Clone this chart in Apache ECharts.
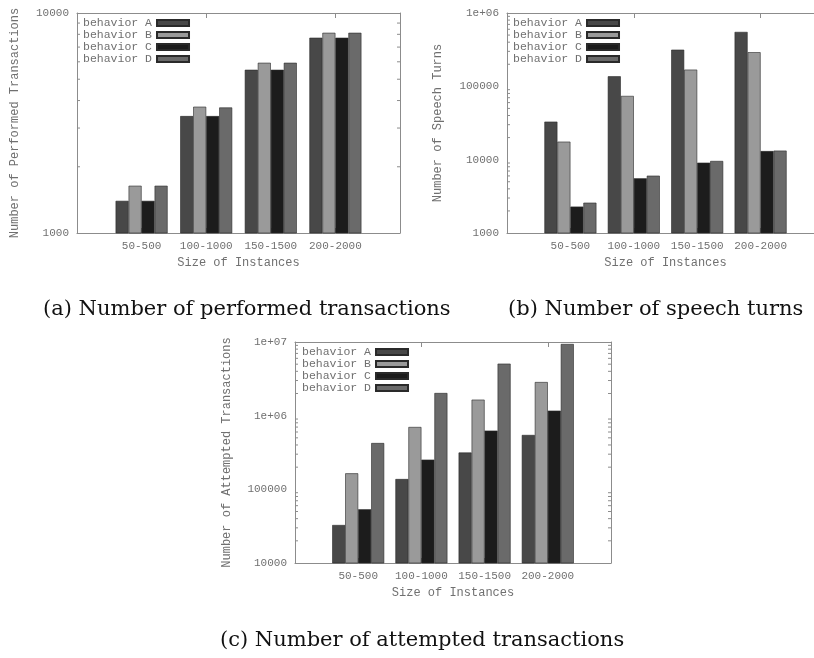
<!DOCTYPE html>
<html>
<head>
<meta charset="utf-8">
<script src="https://cdn.jsdelivr.net/npm/echarts@6/dist/echarts.min.js"></script>
<style>
  html, body { margin: 0; padding: 0; background: #fff; }
  #chart { width: 814px; height: 658px; }
</style>
</head>
<body>
<div id="chart"></div>
<script>
const categories = ["50-500", "100-1000", "150-1500", "200-2000"];
const behaviors = ["behavior A", "behavior B", "behavior C", "behavior D"];

// (a) performed transactions
const performedA = [1400, 3400, 5520, 7720];
const performedB = [1640, 3750, 5940, 8130];
const performedC = [1400, 3400, 5520, 7720];
const performedD = [1640, 3720, 5940, 8130];

// (b) speech turns
const speechA = [33000, 137000, 316000, 552000];
const speechB = [17600, 74000, 169000, 292000];
const speechC = [2290, 5570, 9100, 13100];
const speechD = [2590, 6050, 9600, 13300];

// (c) attempted transactions
const attemptedA = [32800, 138000, 316000, 547000];
const attemptedB = [165000, 702000, 1650000, 2860000];
const attemptedC = [53600, 253000, 627000, 1170000];
const attemptedD = [425000, 2030000, 5080000, 9400000];

// minor log ticks on left/right borders
const minorTicksA = [2000, 3000, 4000, 5000, 6000, 7000, 8000, 9000];
const minorTicksB = [2000, 3000, 4000, 5000, 6000, 7000, 8000, 9000,
  20000, 30000, 40000, 50000, 60000, 70000, 80000, 90000,
  200000, 300000, 400000, 500000, 600000, 700000, 800000, 900000];
const minorTicksC = [20000, 30000, 40000, 50000, 60000, 70000, 80000, 90000,
  200000, 300000, 400000, 500000, 600000, 700000, 800000, 900000,
  2000000, 3000000, 4000000, 5000000, 6000000, 7000000, 8000000, 9000000];

const captions = [
  "(a) Number of performed transactions",
  "(b) Number of speech turns",
  "(c) Number of attempted transactions"
];
const yNames = [
  "Number of Performed Transactions",
  "Number of Speech Turns",
  "Number of Attempted Transactions"
];
const xName = "Size of Instances";
const yMin = [1000, 1000, 10000];
const yMax = [10000, 1000000, 10000000];

const mono = "Liberation Mono";
const textColor = "#707070";
const lineColor = "#8c8c8c";
const barColors = ["#484848", "#9a9a9a", "#1c1c1c", "#6a6a6a"];

const panels = [
  { data: [performedA, performedB, performedC, performedD], minor: minorTicksA,
    grid: { left: 77, top: 13, width: 323, height: 220 },
    legend: { left: 83, top: 17 }, yNameGap: 56,
    title: { left: 43, top: 299 } },
  { data: [speechA, speechB, speechC, speechD], minor: minorTicksB,
    grid: { left: 507, top: 13, width: 317, height: 220 },
    legend: { left: 513, top: 17 }, yNameGap: 63,
    title: { left: 508, top: 299 } },
  { data: [attemptedA, attemptedB, attemptedC, attemptedD], minor: minorTicksC,
    grid: { left: 295, top: 342, width: 316, height: 221 },
    legend: { left: 302, top: 346 }, yNameGap: 62,
    title: { left: 220, top: 630 } }
];

// gnuplot style labels: 1000, 100000, 1e+06 ...
function logLabel(v) {
  const e = Math.round(Math.log10(v));
  return e >= 6 ? "1e+" + (e < 10 ? "0" + e : e) : String(v);
}

const xCats = [""].concat(categories, [""]);
const lastIdx = xCats.length - 1;
const option = {
  animation: false,
  backgroundColor: "#fff",
  title: [], grid: [], xAxis: [], yAxis: [], legend: [], series: []
};

panels.forEach((p, i) => {
  option.grid.push(Object.assign({ show: false, containLabel: false, outerBoundsMode: "none" }, p.grid));
  option.title.push({
    text: captions[i], left: p.title.left, top: p.title.top, padding: 0,
    textStyle: { fontFamily: "DejaVu Serif", fontSize: 21, fontWeight: "normal", color: "#111", lineHeight: 21 }
  });
  option.legend.push({
    left: p.legend.left, top: p.legend.top, orient: "vertical", align: "right",
    padding: 0, itemGap: 0, itemWidth: 32, itemHeight: 6, icon: "rect",
    selectedMode: false, data: behaviors,
    textStyle: { fontFamily: mono, fontSize: 11.5, color: textColor, lineHeight: 12 }
  });
  // bottom x axis
  option.xAxis.push({
    gridIndex: i, type: "category", data: xCats, boundaryGap: false, position: "bottom",
    name: xName, nameLocation: "middle", nameGap: 24,
    nameTextStyle: { fontFamily: mono, fontSize: 12, color: textColor },
    axisLine: { lineStyle: { color: lineColor } },
    axisTick: { inside: true, length: 5, lineStyle: { color: lineColor } },
    axisLabel: { interval: 0, margin: 8, fontFamily: mono, fontSize: 11, color: textColor },
    splitLine: { show: false }
  });
  // top mirror
  option.xAxis.push({
    gridIndex: i, type: "category", data: xCats, boundaryGap: false, position: "top",
    axisLine: { lineStyle: { color: lineColor } },
    axisTick: { inside: true, length: 5, lineStyle: { color: lineColor } },
    axisLabel: { show: false }, splitLine: { show: false }
  });
  // left log axis
  option.yAxis.push({
    gridIndex: i, type: "log", logBase: 10, min: yMin[i], max: yMax[i], position: "left",
    name: yNames[i], nameLocation: "middle", nameGap: p.yNameGap,
    nameTextStyle: { fontFamily: mono, fontSize: 12, color: textColor },
    axisLine: { show: true, lineStyle: { color: lineColor } },
    axisTick: { inside: true, length: 5, lineStyle: { color: lineColor } },
    axisLabel: { margin: 8, fontFamily: mono, fontSize: 11, color: textColor, formatter: logLabel },
    splitLine: { show: false }
  });
  // right mirror
  option.yAxis.push({
    gridIndex: i, type: "log", logBase: 10, min: yMin[i], max: yMax[i], position: "right",
    axisLine: { show: true, lineStyle: { color: lineColor } },
    axisTick: { inside: true, length: 5, lineStyle: { color: lineColor } },
    axisLabel: { show: false }, splitLine: { show: false }
  });
  p.data.forEach((vals, k) => {
    option.series.push({
      type: "bar", name: behaviors[k], xAxisIndex: 2 * i, yAxisIndex: 2 * i,
      data: ["-"].concat(vals, ["-"]),
      barWidth: 13, barGap: "0%", clip: true,
      itemStyle: { color: barColors[k], borderColor: "#2a2a2a", borderWidth: 0.6 },
      emphasis: { disabled: true }
    });
  });
  // minor ticks drawn through the log axis
  option.series.push({
    type: "custom", name: "minor", xAxisIndex: 2 * i, yAxisIndex: 2 * i,
    silent: true, clip: false, z: 1,
    data: p.minor.map(v => [0, v]),
    renderItem: function (params, api) {
      const l = api.coord([0, api.value(1)]);
      const r = api.coord([lastIdx, api.value(1)]);
      const style = { stroke: lineColor, lineWidth: 1 };
      return {
        type: "group",
        children: [
          { type: "line", shape: { x1: l[0], y1: l[1], x2: l[0] + 3, y2: l[1] }, style: style },
          { type: "line", shape: { x1: r[0] - 3, y1: r[1], x2: r[0], y2: r[1] }, style: style }
        ]
      };
    }
  });
});

const chart = echarts.init(document.getElementById("chart"));
chart.setOption(option);
</script>
</body>
</html>
